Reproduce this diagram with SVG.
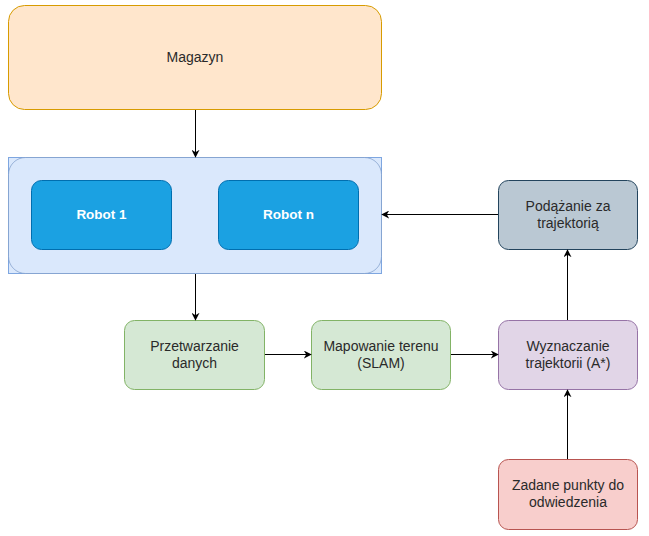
<svg xmlns="http://www.w3.org/2000/svg" width="649" height="536" viewBox="0 0 649 536">
<style>
text{font-family:"Liberation Sans",Arial,sans-serif;font-size:14px;fill:#2a2a2a;text-anchor:middle}
.w{fill:#fff;font-weight:bold;font-size:13.5px}
.e{stroke:#000;stroke-width:1;fill:none;marker-end:url(#a)}
</style>
<defs>
<marker id="a" viewBox="0 0 10 10" refX="9" refY="5" markerWidth="8" markerHeight="8" markerUnits="userSpaceOnUse" orient="auto">
<path d="M0,0 L10,5 L0,10 L3,5 Z" fill="#000"/>
</marker>
</defs>
<rect width="649" height="536" fill="#fff"/>
<g id="magazyn">
<rect x="8.5" y="5.5" width="373" height="104" rx="16" fill="#ffe6cc" stroke="#d79b00"/>
<text x="195" y="62">Magazyn</text>
</g>
<g id="roboty">
<rect x="8.5" y="157.5" width="373" height="116" fill="#dae8fc" stroke="#7ea6e0"/>
<rect x="8.5" y="157.5" width="373" height="116" rx="17" fill="#dae8fc" stroke="#6c8ebf" stroke-opacity="0.6"/>
</g>
<g id="robot1">
<rect x="31.5" y="180.5" width="140" height="69" rx="10" fill="#1ba1e2" stroke="#006eaf"/>
<text class="w" x="101.5" y="219">Robot 1</text>
</g>
<g id="robotn">
<rect x="218.5" y="180.5" width="140" height="69" rx="10" fill="#1ba1e2" stroke="#006eaf"/>
<text class="w" x="288.5" y="219">Robot n</text>
</g>
<g id="przetwarzanie">
<rect x="124.5" y="320.5" width="140" height="69" rx="10" fill="#d5e8d4" stroke="#82b366"/>
<text x="194.5" y="351">Przetwarzanie</text>
<text x="194.5" y="368">danych</text>
</g>
<g id="mapowanie">
<rect x="311.5" y="320.5" width="139" height="69" rx="10" fill="#d5e8d4" stroke="#82b366"/>
<text x="381" y="351">Mapowanie terenu</text>
<text x="381" y="368">(SLAM)</text>
</g>
<g id="wyznaczanie">
<rect x="498.5" y="320.5" width="139" height="69" rx="10" fill="#e1d5e7" stroke="#9673a6"/>
<text x="568" y="351">Wyznaczanie</text>
<text x="568" y="368">trajektorii (A*)</text>
</g>
<g id="zadane">
<rect x="498.5" y="459.5" width="139" height="70" rx="10" fill="#f8cecc" stroke="#b85450"/>
<text x="568" y="490">Zadane punkty do</text>
<text x="568" y="507">odwiedzenia</text>
</g>
<g id="podazanie">
<rect x="498.5" y="180.5" width="139" height="69" rx="10" fill="#bac8d3" stroke="#23445d"/>
<text x="568" y="211">Podążanie za</text>
<text x="568" y="228">trajektorią</text>
</g>
<g id="connectors">
<path class="e" d="M195.5,110 V157"/>
<path class="e" d="M195.5,274 V320"/>
<path class="e" d="M265,354.5 H311"/>
<path class="e" d="M451,354.5 H498"/>
<path class="e" d="M567.5,459 V390"/>
<path class="e" d="M567.5,320 V250"/>
<path class="e" d="M498,214.5 H382"/>
</g>
</svg>
